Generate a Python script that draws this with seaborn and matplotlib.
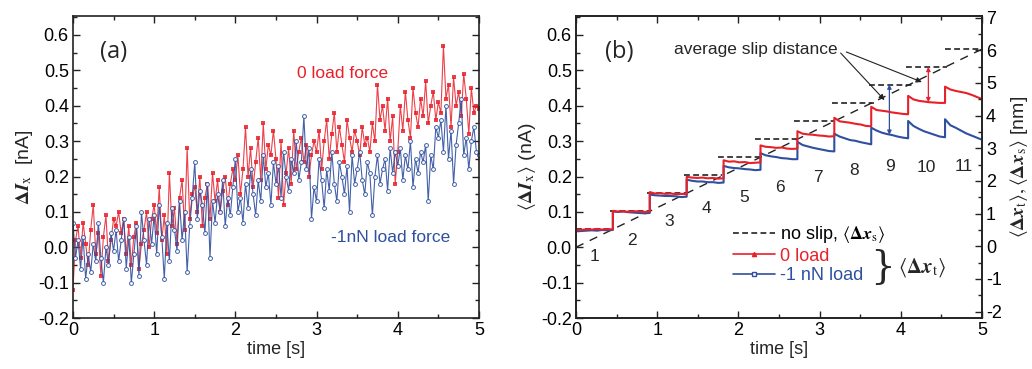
import numpy as np
import pandas as pd
import seaborn as sns
import matplotlib.pyplot as plt
from matplotlib.lines import Line2D
from matplotlib.ticker import MultipleLocator, FormatStrFormatter

RED = '#e8202a'
BLUE = '#2f4f9f'

# ---- panel (a): raw current signal, one value every 1/32 s ----
red_a = [
    -0.12, 0.02, 0.06, -0.03, 0.07, 0.01, -0.05, 0.05, 0.12, -0.02, 0.04, -0.08, 0.03, 0.09, -0.04, 0.02,
    0.08, 0.06, 0.10, 0.04, 0.08, -0.02, 0.06, -0.05, 0.03, 0.07, -0.06, 0.01, 0.05, 0.10, 0.00, 0.08,
    0.12, 0.04, 0.17, 0.02, 0.09, -0.02, 0.21, 0.06, 0.11, 0.01, 0.14, 0.19, 0.05, 0.28, 0.08, 0.15,
    0.17, 0.10, 0.20, 0.06, 0.14, 0.18, 0.08, 0.21, 0.13, 0.19, 0.10, 0.16, 0.20, 0.12, 0.18, 0.22,
    0.19, 0.26, 0.15, 0.22, 0.34, 0.20, 0.28, 0.17, 0.24, 0.31, 0.19, 0.35, 0.22, 0.29, 0.26, 0.33,
    0.25, 0.14, 0.30, 0.12, 0.21, 0.28, 0.18, 0.33, 0.22, 0.27, 0.31, 0.24, 0.29, 0.20, 0.26, 0.30,
    0.27, 0.33, 0.22, 0.30, 0.36, 0.25, 0.32, 0.38, 0.27, 0.34, 0.29, 0.24, 0.36, 0.31, 0.27, 0.33,
    0.30, 0.26, 0.34, 0.29, 0.31, 0.27, 0.35, 0.30, 0.46, 0.36, 0.40, 0.33, 0.42, 0.30, 0.37, 0.18,
    0.27, 0.40, 0.33, 0.44, 0.36, 0.31, 0.45, 0.38, 0.34, 0.42, 0.37, 0.47, 0.35, 0.40, 0.44, 0.36,
    0.41, 0.38, 0.57, 0.42, 0.46, 0.34, 0.48, 0.40, 0.44, 0.37, 0.49, 0.42, 0.32, 0.45, 0.38, 0.40,
    0.39,
]
blue_a = [
    0.07, -0.03, 0.02, -0.06, 0.03, -0.09, -0.02, -0.07, 0.01, -0.04, 0.07, -0.03, -0.10, 0.00, -0.05, 0.04,
    -0.01, 0.05, -0.04, 0.02, 0.08, -0.06, 0.03, -0.10, -0.02, 0.06, -0.08, 0.10, 0.02, -0.05, 0.08, 0.01,
    0.09, -0.02, 0.12, 0.03, -0.09, 0.07, -0.04, 0.11, 0.05, -0.01, 0.13, 0.02, 0.10, -0.07, 0.06, 0.14,
    0.24, 0.08, 0.16, 0.12, 0.04, 0.18, -0.03, 0.13, 0.07, 0.15, 0.10, 0.19, 0.06, 0.14, 0.09, 0.17,
    0.25, 0.10, 0.14, 0.07, 0.18, 0.11, 0.22, 0.15, 0.09, 0.19, 0.13, 0.26, 0.17, 0.21, 0.12, 0.24,
    0.18, 0.23, 0.14, 0.27, 0.20, 0.16, 0.25, 0.21, 0.30, 0.19, 0.24, 0.37, 0.22, 0.28, 0.08, 0.17,
    0.13, 0.25, 0.19, 0.11, 0.22, 0.16, 0.27, 0.18, 0.13, 0.24, 0.20, 0.15, 0.23, 0.10, 0.26, 0.18,
    0.22, 0.27, 0.19, 0.15, 0.24, 0.21, 0.09, 0.20, 0.26, 0.18, 0.22, 0.25, 0.16, 0.28, 0.21, 0.27,
    0.23, 0.28, 0.19, 0.26, 0.22, 0.30, 0.17, 0.25, 0.21, 0.27, 0.24, 0.29, 0.13, 0.26, 0.22, 0.34,
    0.31, 0.36, 0.27, 0.40, 0.25, 0.33, 0.18, 0.29, 0.35, 0.42, 0.26, 0.31, 0.22, 0.30, 0.34, 0.27,
    0.26,
]

# ---- panel (b): averaged signal, 11 slip steps ----
n_steps = 11
red_steps = [
    [0.050, 0.049, 0.051, 0.050, 0.052, 0.050, 0.051, 0.051],
    [0.103, 0.101, 0.102, 0.100, 0.102, 0.101, 0.100, 0.101],
    [0.156, 0.152, 0.153, 0.151, 0.152, 0.150, 0.151, 0.150],
    [0.199, 0.197, 0.196, 0.197, 0.195, 0.196, 0.194, 0.195],
    [0.246, 0.242, 0.243, 0.240, 0.241, 0.238, 0.239, 0.240],
    [0.288, 0.284, 0.283, 0.281, 0.282, 0.279, 0.278, 0.279],
    [0.328, 0.321, 0.319, 0.318, 0.316, 0.315, 0.313, 0.314],
    [0.366, 0.356, 0.354, 0.352, 0.349, 0.347, 0.343, 0.342],
    [0.397, 0.388, 0.386, 0.384, 0.381, 0.379, 0.377, 0.376],
    [0.428, 0.418, 0.414, 0.412, 0.410, 0.409, 0.408, 0.408],
    [0.454, 0.446, 0.442, 0.439, 0.436, 0.431, 0.425, 0.419],
]
blue_steps = [
    [0.045, 0.046, 0.047, 0.048, 0.047, 0.049, 0.048, 0.049],
    [0.101, 0.100, 0.101, 0.099, 0.098, 0.097, 0.096, 0.097],
    [0.149, 0.147, 0.146, 0.145, 0.145, 0.144, 0.142, 0.143],
    [0.191, 0.188, 0.186, 0.186, 0.184, 0.184, 0.182, 0.183],
    [0.230, 0.226, 0.224, 0.223, 0.221, 0.220, 0.218, 0.219],
    [0.266, 0.260, 0.257, 0.255, 0.252, 0.251, 0.249, 0.249],
    [0.298, 0.289, 0.285, 0.281, 0.278, 0.275, 0.272, 0.271],
    [0.321, 0.313, 0.308, 0.303, 0.301, 0.297, 0.294, 0.291],
    [0.338, 0.330, 0.324, 0.320, 0.317, 0.313, 0.310, 0.308],
    [0.357, 0.343, 0.335, 0.328, 0.323, 0.318, 0.313, 0.311],
    [0.362, 0.345, 0.338, 0.330, 0.322, 0.316, 0.310, 0.304],
]
noslip_level = [0.051, 0.102, 0.153, 0.205, 0.256, 0.307, 0.357, 0.409, 0.460, 0.510, 0.561]
noslip_start = [0.00, 0.42, 0.87, 1.33, 1.75, 2.20, 2.68, 3.15, 3.61, 4.07, 4.54]
noslip_end = [0.45, 0.90, 1.36, 1.80, 2.28, 2.73, 3.19, 3.67, 4.15, 4.57, 5.00]
noslip_diag_t = [0.0, 5.0]
noslip_diag_v = [0.0, 0.56]
step_label_t = [0.23, 0.69, 1.15, 1.61, 2.07, 2.51, 2.98, 3.42, 3.87, 4.32, 4.77]
step_label_v = [-0.025, 0.020, 0.074, 0.109, 0.142, 0.168, 0.196, 0.216, 0.227, 0.226, 0.227]

sns.set_theme(style='ticks')
plt.rcParams['font.family'] = ['Liberation Sans', 'DejaVu Sans']
plt.rcParams['mathtext.fontset'] = 'stix'
plt.rcParams['axes.unicode_minus'] = False

fig = plt.figure(figsize=(10.32, 3.69), dpi=100)
ax_a = fig.add_axes([0.0707, 0.138, 0.3934, 0.819])
ax_b = fig.add_axes([0.5581, 0.138, 0.3934, 0.819])


def style_axis(ax, right=True):
    ax.set_xlim(0, 5)
    ax.set_ylim(-0.2, 0.654)
    ax.xaxis.set_major_locator(MultipleLocator(1))
    ax.xaxis.set_minor_locator(MultipleLocator(0.5))
    ax.yaxis.set_major_locator(MultipleLocator(0.1))
    ax.yaxis.set_minor_locator(MultipleLocator(0.05))
    ax.yaxis.set_major_formatter(FormatStrFormatter('%.1f'))
    ax.xaxis.set_major_formatter(FormatStrFormatter('%d'))
    ax.tick_params(which='both', direction='in', top=True, right=right, colors='#222222',
                   labelcolor='black', width=1)
    ax.tick_params(which='major', length=5, labelsize=13, pad=3)
    ax.tick_params(which='minor', length=3)
    for s in ax.spines.values():
        s.set_linewidth(1.2)
        s.set_color('#222222')
    ax.set_xlabel('time [s]', fontsize=13, labelpad=1)
    ax.grid(False)


# panel (a)
t_a = np.linspace(0, 5, len(red_a))
df_a = pd.DataFrame({'t': np.concatenate([t_a, t_a]),
                     'v': red_a + blue_a,
                     'load': ['0'] * len(red_a) + ['-1'] * len(blue_a)})
sns.lineplot(data=df_a[df_a['load'] == '0'], x='t', y='v', ax=ax_a, color=RED,
             estimator=None, sort=False, lw=0.8, alpha=0.85, marker='s', markersize=2.3,
             markeredgewidth=0, markerfacecolor=RED)
sns.lineplot(data=df_a[df_a['load'] == '-1'], x='t', y='v', ax=ax_a, color=BLUE,
             estimator=None, sort=False, lw=0.8, alpha=0.9, marker='o', markersize=2.8,
             markeredgewidth=0.7, markerfacecolor='white', markeredgecolor=BLUE)
style_axis(ax_a)
ax_a.set_ylabel(r'$\mathbf{\Delta}\mathbfit{I}_{\mathrm{x}}$  [nA]', fontsize=14, labelpad=2)
ax_a.text(0.5, 0.552, '(a)', fontsize=17, family='Open Sans', ha='center', va='center')
ax_a.text(3.32, 0.49, '0 load force', fontsize=12.5, color=RED, ha='center', va='center')
ax_a.text(3.91, 0.027, '-1nN load force', fontsize=12.5, color=BLUE, ha='center', va='center')

# panel (b)
rows = []
P = 5.0 / n_steps
for k in range(n_steps):
    tt = np.linspace(k * P, (k + 1) * P, len(red_steps[k]))
    for ti, r, b in zip(tt, red_steps[k], blue_steps[k]):
        rows.append((ti, r, b))
df_b = pd.DataFrame(rows, columns=['t', 'red', 'blue'])

for lvl, t0, t1 in zip(noslip_level, noslip_start, noslip_end):
    ax_b.plot([t0, t1], [lvl, lvl], color='#222222', lw=1.2, ls=(0, (3.5, 2)), zorder=1)
sns.lineplot(x=noslip_diag_t, y=noslip_diag_v, ax=ax_b, color='#222222', lw=1.0,
             estimator=None, sort=False, zorder=1).lines[-1].set_dashes((6, 5))
sns.lineplot(data=df_b, x='t', y='blue', ax=ax_b, color=BLUE, lw=1.5,
             estimator=None, sort=False, zorder=3)
sns.lineplot(data=df_b, x='t', y='red', ax=ax_b, color=RED, lw=1.5,
             estimator=None, sort=False, zorder=4)
style_axis(ax_b, right=False)
ax_b.set_ylabel(r'$\langle\mathbf{\Delta}\mathbfit{I}_{\mathrm{x}}\rangle$ (nA)', fontsize=14, labelpad=2)

for i, (tx, vy) in enumerate(zip(step_label_t, step_label_v)):
    ax_b.text(tx, vy, str(i + 1), fontsize=12.5, ha='center', va='center')

ax_b.text(0.53, 0.553, '(b)', fontsize=17, family='Open Sans', ha='center', va='center')
ax_b.text(2.22, 0.558, 'average slip distance', fontsize=12.5, ha='center', va='center')
ax_b.annotate('', xy=(3.80, 0.416), xytext=(3.26, 0.549),
              arrowprops=dict(arrowstyle='-|>', color='#222222', lw=0.8,
                              mutation_scale=8, shrinkA=0, shrinkB=0))
ax_b.annotate('', xy=(4.26, 0.467), xytext=(3.33, 0.552),
              arrowprops=dict(arrowstyle='-|>', color='#222222', lw=0.8,
                              mutation_scale=8, shrinkA=0, shrinkB=0))
ax_b.annotate('', xy=(3.86, 0.460), xytext=(3.86, 0.318),
              arrowprops=dict(arrowstyle='<|-|>', color=BLUE, lw=0.9,
                              mutation_scale=6, shrinkA=0, shrinkB=0))
ax_b.annotate('', xy=(4.34, 0.510), xytext=(4.34, 0.410),
              arrowprops=dict(arrowstyle='<|-|>', color=RED, lw=0.9,
                              mutation_scale=6, shrinkA=0, shrinkB=0))

handles = [
    Line2D([], [], color='#222222', lw=1.2, ls=(0, (3.5, 2))),
    Line2D([], [], color=RED, lw=1.2, marker='^', markersize=3),
    Line2D([], [], color=BLUE, lw=1.2, marker='s', markersize=3, markerfacecolor='white'),
]
labels = [r'no slip, $\langle\mathbf{\Delta}\mathbfit{x}_{\mathrm{s}}\rangle$', '0 load', '-1 nN load']
ax_b.legend(handles, labels, loc='upper left', bbox_to_anchor=(0.37, 0.335), frameon=False,
            fontsize=13, handlelength=2.3, handletextpad=0.3, labelspacing=0.15,
            labelcolor=['black', RED, BLUE], borderaxespad=0)
ax_b.text(3.78, -0.057, '}', fontsize=28, family='DejaVu Serif', fontweight='light',
          ha='center', va='center')
ax_b.text(3.97, -0.057, r'$\langle\mathbf{\Delta}\mathbfit{x}_{\mathrm{t}}\rangle$', fontsize=15,
          ha='left', va='center')

ax_r = ax_b.twinx()
ax_r.set_ylim(-2.2, 7.05)
ax_r.yaxis.set_major_locator(MultipleLocator(1))
ax_r.yaxis.set_minor_locator(MultipleLocator(0.5))
ax_r.yaxis.set_major_formatter(FormatStrFormatter('%d'))
ax_r.tick_params(which='both', direction='in', colors='#222222', labelcolor='black', width=1)
ax_r.tick_params(which='major', length=5, labelsize=13, pad=3)
ax_r.tick_params(which='minor', length=3)
ax_r.grid(False)
for s in ax_r.spines.values():
    s.set_linewidth(1.2)
    s.set_color('#222222')
ax_r.set_ylabel(r'$\langle\mathbf{\Delta}\mathbfit{x}_{\mathrm{t}}\rangle,\langle\mathbf{\Delta}\mathbfit{x}_{\mathrm{s}}\rangle$ [nm]',
                fontsize=14, rotation=90, labelpad=4)

fig.savefig('out.png', dpi=100)
